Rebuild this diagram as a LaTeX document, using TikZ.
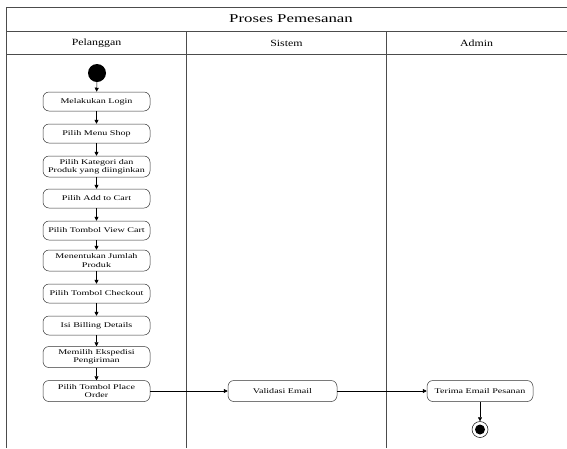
\documentclass[tikz,border=0pt]{standalone}
\usepackage{fontspec}
\setmainfont{Liberation Serif}
\newfontfamily\actfont[FakeStretch=1.4]{Liberation Serif}
\newfontfamily\hdrfont[FakeStretch=1.25]{Liberation Serif}
\newfontfamily\ttlfont[FakeStretch=1.4]{Liberation Serif}
\usetikzlibrary{arrows.meta}
\begin{document}
\begin{tikzpicture}[x=1pt,y=-1pt,
  lane/.style={draw=black!70,line width=0.8pt},
  act/.style={draw=black!80,rounded corners=6pt,minimum width=107pt,minimum height=19pt,
    align=center,font=\actfont\fontsize{7.2}{8.4}\selectfont,inner sep=1pt,line width=0.5pt},
  flow/.style={draw=black,line width=0.5pt,-{Triangle[length=4pt,width=4pt]}},
  hdr/.style={font=\hdrfont\fontsize{9.5}{10}\selectfont},
  ttl/.style={font=\ttlfont\fontsize{12}{13}\selectfont}]
\useasboundingbox (0,0) rectangle (567,448);
% frame
\draw[lane] (567,7) -- (6.5,7) -- (6.5,448);
\draw[lane] (6.5,31) -- (567,31);
\draw[lane] (6.5,54) -- (567,54);
\draw[lane] (186.5,31) -- (186.5,448);
\draw[lane] (386.5,31) -- (386.5,448);
\node[ttl] (title) at (291,19) {Proses Pemesanan};
\node[hdr] (h1) at (96.5,43) {Pelanggan};
\node[hdr] (h2) at (286.5,43) {Sistem};
\node[hdr] (h3) at (476.5,43) {Admin};
% start
\node[circle,fill=black,minimum size=18pt,inner sep=0pt] (start) at (97,73) {};
% activities
\node[act] (a1) at (96.5,101.5) {Melakukan Login};
\node[act] (a2) at (96.5,133.5) {Pilih Menu Shop};
\node[act,minimum height=21pt] (a3) at (96.5,166.5) {Pilih Kategori dan\\Produk yang diinginkan};
\node[act] (a4) at (96.5,198.5) {Pilih Add to Cart};
\node[act] (a5) at (96.5,230.5) {Pilih Tombol View Cart};
\node[act,minimum height=21pt] (a6) at (96.5,260.5) {Menentukan Jumlah\\Produk};
\node[act] (a7) at (96.5,293.5) {Pilih Tombol Checkout};
\node[act] (a8) at (96.5,325.5) {Isi Billing Details};
\node[act,minimum height=21pt] (a9) at (96.5,357) {Memilih Ekspedisi\\Pengiriman};
\node[act,minimum height=21pt] (a10) at (96.5,391) {Pilih Tombol Place\\Order};
\node[act,minimum width=109pt,minimum height=21pt] (v) at (282.5,391) {Validasi Email};
\node[act,minimum width=106pt,minimum height=21pt] (t) at (480,391) {Terima Email Pesanan};
% end
\node[circle,draw=black,line width=0.5pt,minimum size=16pt,inner sep=0pt] (end) at (480,429.5) {};
\node[circle,fill=black,minimum size=10pt,inner sep=0pt] (endin) at (end) {};
% flows
\draw[flow] (start) -- (a1);
\draw[flow] (a1) -- (a2);
\draw[flow] (a2) -- (a3);
\draw[flow] (a3) -- (a4);
\draw[flow] (a4) -- (a5);
\draw[flow] (a5) -- (a6);
\draw[flow] (a6) -- (a7);
\draw[flow] (a7) -- (a8);
\draw[flow] (a8) -- (a9);
\draw[flow] (a9) -- (a10);
\draw[flow] (a10) -- (v);
\draw[flow] (v) -- (t);
\draw[flow] (t) -- (end);
\end{tikzpicture}
\end{document}
